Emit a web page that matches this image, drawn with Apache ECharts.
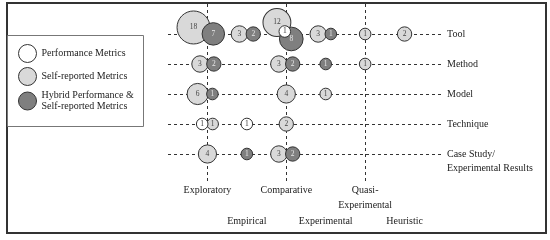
<!DOCTYPE html>
<html>
<head>
<meta charset="utf-8">
<script src="https://cdn.jsdelivr.net/npm/echarts@6/dist/echarts.min.js"></script>
<style>html,body{margin:0;padding:0;background:#fff;}#c{width:550px;height:240px;}</style>
</head>
<body>
<div id="c"></div>
<script>
// ---- data ----
const cols = ['Exploratory', 'Empirical', 'Comparative', 'Experimental', 'Quasi-\nExperimental', 'Heuristic'];
const rows = ['Tool', 'Method', 'Model', 'Technique', 'Case Study/\nExperimental Results'];
const perfData = [
  ['Comparative', 'Tool', 1],
  ['Exploratory', 'Technique', 1],
  ['Empirical', 'Technique', 1]
];
const selfData = [
  ['Exploratory', 'Tool', 18], ['Empirical', 'Tool', 3], ['Comparative', 'Tool', 12],
  ['Experimental', 'Tool', 3], ['Quasi-\nExperimental', 'Tool', 1], ['Heuristic', 'Tool', 2],
  ['Exploratory', 'Method', 3], ['Comparative', 'Method', 3], ['Quasi-\nExperimental', 'Method', 1],
  ['Exploratory', 'Model', 6], ['Comparative', 'Model', 4], ['Experimental', 'Model', 1],
  ['Exploratory', 'Technique', 1], ['Comparative', 'Technique', 2],
  ['Exploratory', 'Case Study/\nExperimental Results', 4], ['Comparative', 'Case Study/\nExperimental Results', 3]
];
const hybridData = [
  ['Exploratory', 'Tool', 7], ['Empirical', 'Tool', 2], ['Comparative', 'Tool', 8], ['Experimental', 'Tool', 1],
  ['Exploratory', 'Method', 2], ['Comparative', 'Method', 2], ['Experimental', 'Method', 1],
  ['Exploratory', 'Model', 1],
  ['Empirical', 'Case Study/\nExperimental Results', 1], ['Comparative', 'Case Study/\nExperimental Results', 2]
];
const seriesNames = ['Performance Metrics', 'Self-reported Metrics', 'Hybrid Performance &\nSelf-reported Metrics'];

// ---- layout ----
const GRID = {left: 168, right: 106, top: 4, bottom: 57.5};
const X_MIN = -1, X_MAX = 6, Y_MIN = -1, Y_MAX = 4.95;
const PX_X = (550 - GRID.left - GRID.right) / (X_MAX - X_MIN);
const PX_Y = (240 - GRID.top - GRID.bottom) / (Y_MAX - Y_MIN);
const FONT = '"Liberation Serif", "Times New Roman", serif';
function diam(v) { return 5 + 6.6 * Math.sqrt(v); }

const groups = [perfData, selfData, hybridData];
const cells = {};
groups.forEach((g, t) => g.forEach(d => {
  const k = d[0] + '|' + d[1];
  (cells[k] = cells[k] || []).push({t: t, v: d[2], key: t + '|' + k});
}));
const offs = {};
function placePair(a, b, thDeg, k, bias) {
  const ra = diam(a.v) / 2, rb = diam(b.v) / 2;
  const d = k * (ra + rb), ov = ra + rb - d;
  const th = thDeg * Math.PI / 180, ux = Math.cos(th), uy = Math.sin(th);
  const s = ra - ov / 2;
  offs[a.key] = [bias[0] - ux * s, bias[1] - uy * s];
  offs[b.key] = [bias[0] - ux * s + ux * d, bias[1] - uy * s + uy * d];
}
const BIG_BIAS = [-1.5, -2.5];
Object.keys(cells).forEach(k => {
  const L = cells[k];
  if (L.length === 1) offs[L[0].key] = [0, 0];
  else if (L.length === 2) {
    const big = Math.max(L[0].v, L[1].v) >= 10;
    placePair(L[0], L[1], big ? 18 : 0, big ? 0.75 : 0.9, big ? BIG_BIAS : [0, 0]);
  } else {
    let small = L[0];
    L.forEach(o => { if (o.v < small.v) small = o; });
    const pair = L.filter(o => o !== small);
    placePair(pair[0], pair[1], 49, 0.85, BIG_BIAS);
    offs[small.key] = BIG_BIAS.slice();
  }
});
function build(g, t) {
  return g.map(d => {
    const o = offs[t + '|' + d[0] + '|' + d[1]];
    return [cols.indexOf(d[0]) + o[0] / PX_X, rows.indexOf(d[1]) + o[1] / PX_Y, d[2]];
  });
}

const fills = ['#ffffff', '#d9d9d9', '#7f7f7f'];
const labelColors = ['#333', '#444', '#e6e6e6'];
const zs = [5, 3, 4];

const lines = [];
rows.forEach((r, j) => lines.push([{coord: [X_MIN, j]}, {coord: [X_MAX, j]}]));
cols.forEach((c, i) => lines.push([{coord: [i, Y_MIN]}, {coord: [i, i % 2 ? 5.97 : Y_MAX]}]));

const series = [{
  type: 'scatter', data: [], silent: true, z: 1, clip: false,
  markLine: {
    z: 1,
    symbol: 'none', silent: true, animation: false, label: {show: false},
    lineStyle: {color: '#333', type: [3, 3], width: 1},
    emphasis: {disabled: true},
    data: lines
  }
}];
groups.forEach((g, t) => series.push({
  name: seriesNames[t], type: 'scatter', z: zs[t], clip: false,
  data: build(g, t),
  symbol: 'circle',
  symbolSize: v => diam(v[2]),
  itemStyle: {color: fills[t], borderColor: '#333', borderWidth: 1, opacity: 1},
  label: {show: true, position: 'inside', formatter: p => p.value[2], fontSize: 7.5, fontFamily: FONT, color: labelColors[t]},
  emphasis: {disabled: true}
}));

const chart = echarts.init(document.getElementById('c'), null, {renderer: 'canvas'});
chart.setOption({
  animation: false,
  backgroundColor: '#fff',
  grid: GRID,
  xAxis: {
    type: 'value', min: X_MIN, max: X_MAX, interval: 1,
    axisLine: {show: false}, axisTick: {show: false}, splitLine: {show: false},
    axisLabel: {
      margin: 0, fontSize: 10, fontFamily: FONT, color: '#222', lineHeight: 15.5,
      formatter: v => (v >= 0 && v < cols.length && v === Math.round(v)) ? ((v % 2 ? '\n\n' : '') + cols[v]) : ''
    }
  },
  yAxis: {
    type: 'value', inverse: true, min: Y_MIN, max: Y_MAX, interval: 1, position: 'right',
    axisLine: {show: false}, axisTick: {show: false}, splitLine: {show: false},
    axisLabel: {
      margin: 3, fontSize: 10, fontFamily: FONT, color: '#222', lineHeight: 14, align: 'left',
      formatter: v => (v >= 0 && v < rows.length && v === Math.round(v)) ? ((rows[v].indexOf('\n') >= 0 ? '\n' : '') + rows[v]) : ''
    }
  },
  legend: {
    orient: 'vertical', left: 18, top: 44, padding: 0, itemWidth: 18, itemHeight: 18, itemGap: 4,
    icon: 'circle', data: seriesNames,
    itemStyle: {borderColor: '#333', borderWidth: 1},
    textStyle: {fontSize: 10, fontFamily: FONT, color: '#222', lineHeight: 11},
    selectedMode: false
  },
  graphic: [
    {type: 'rect', shape: {x: 7, y: 3, width: 539, height: 230}, style: {fill: 'none', stroke: '#333', lineWidth: 2}, z: 0},
    {type: 'rect', shape: {x: 7.5, y: 35.5, width: 136, height: 91}, style: {fill: 'none', stroke: '#777', lineWidth: 1}, z: 0}
  ],
  series: series
});
</script>
</body>
</html>
